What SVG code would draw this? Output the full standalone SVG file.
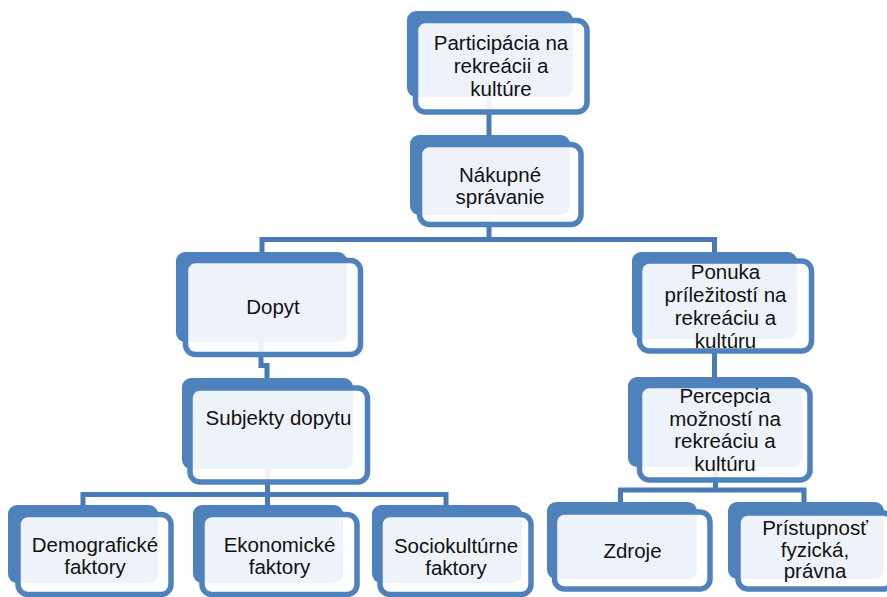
<svg xmlns="http://www.w3.org/2000/svg" width="887" height="597" viewBox="0 0 887 597">
<style>
.bk{fill:#4F81BD}
.fr{fill:#FFFFFF;fill-opacity:0.9;stroke:#4F81BD;stroke-width:5.5}
.cn{fill:none;stroke:#4A7AB5;stroke-width:5}
text{font-family:"Liberation Sans",Arial,sans-serif;font-size:20.5px;fill:#111;text-anchor:middle}
</style>
<rect width="887" height="597" fill="#FFFFFF"/>
<g id="connectors">
<path class="cn" d="M489,97 V140"/>
<path class="cn" d="M489,220 V239.5"/>
<path class="cn" d="M262,252 V239.5 H714.5 V252"/>
<path class="cn" d="M261,342 V365.5 H267 V380"/>
<path class="cn" d="M714.5,339 V380"/>
<path class="cn" d="M267.5,469 V505"/>
<path class="cn" d="M83,505 V494.5 H446 V505"/>
<path class="cn" d="M715.5,467 V490"/>
<path class="cn" d="M620.5,502 V490 H804 V502"/>
</g>
<g id="n1">
<rect class="bk" x="407" y="11" width="166" height="86" rx="9"/>
<rect class="fr" x="415.5" y="20.5" width="171.5" height="91.5" rx="10"/>
<text x="501" y="50">Participácia na</text>
<text x="501" y="73">rekreácii a</text>
<text x="501" y="96">kultúre</text>
</g>
<g id="n2">
<rect class="bk" x="410" y="135" width="160" height="80" rx="9"/>
<rect class="fr" x="419.5" y="144.5" width="161.5" height="80" rx="10"/>
<text x="500" y="182">Nákupné</text>
<text x="500" y="204">správanie</text>
</g>
<g id="n3">
<rect class="bk" x="176" y="252" width="171" height="90" rx="9"/>
<rect class="fr" x="185.5" y="260.5" width="175" height="94" rx="10"/>
<text x="273" y="314">Dopyt</text>
</g>
<g id="n4">
<rect class="bk" x="632" y="252" width="165" height="87" rx="9"/>
<rect class="fr" x="639.5" y="261" width="172" height="90" rx="10"/>
<text x="725.5" y="279">Ponuka</text>
<text x="725.5" y="302">príležitostí na</text>
<text x="725.5" y="325">rekreáciu a</text>
<text x="725.5" y="348">kultúru</text>
</g>
<g id="n5">
<rect class="bk" x="182" y="378" width="171" height="91" rx="9"/>
<rect class="fr" x="190" y="388" width="177.5" height="94" rx="10"/>
<text x="278.5" y="425">Subjekty dopytu</text>
</g>
<g id="n6">
<rect class="bk" x="628" y="377" width="174" height="90" rx="9"/>
<rect class="fr" x="639.5" y="385.5" width="170.5" height="94.5" rx="10"/>
<text x="725" y="403">Percepcia</text>
<text x="725" y="425.5">možností na</text>
<text x="725" y="448">rekreáciu a</text>
<text x="725" y="470.5">kultúru</text>
</g>
<g id="n7">
<rect class="bk" x="8" y="505" width="150" height="78" rx="9"/>
<rect class="fr" x="18" y="514.5" width="153" height="80" rx="10"/>
<text x="95" y="552">Demografické</text>
<text x="95" y="574">faktory</text>
</g>
<g id="n8">
<rect class="bk" x="193" y="505" width="150" height="78" rx="9"/>
<rect class="fr" x="202" y="514.5" width="155" height="80" rx="10"/>
<text x="279.5" y="552">Ekonomické</text>
<text x="279.5" y="574">faktory</text>
</g>
<g id="n9">
<rect class="bk" x="372" y="505" width="150" height="78" rx="9"/>
<rect class="fr" x="380" y="514.5" width="151" height="80" rx="10"/>
<text x="456" y="552.5">Sociokultúrne</text>
<text x="456" y="574.5">faktory</text>
</g>
<g id="n10">
<rect class="bk" x="547" y="502" width="150" height="77" rx="9"/>
<rect class="fr" x="554.5" y="512" width="155.5" height="77" rx="10"/>
<text x="632.5" y="558">Zdroje</text>
</g>
<g id="n11">
<rect class="bk" x="728" y="502" width="156" height="77" rx="9"/>
<rect class="fr" x="738" y="513" width="155" height="76" rx="10"/>
<text x="815" y="535">Prístupnosť</text>
<text x="815" y="557">fyzická,</text>
<text x="815" y="578">právna</text>
</g>
</svg>
